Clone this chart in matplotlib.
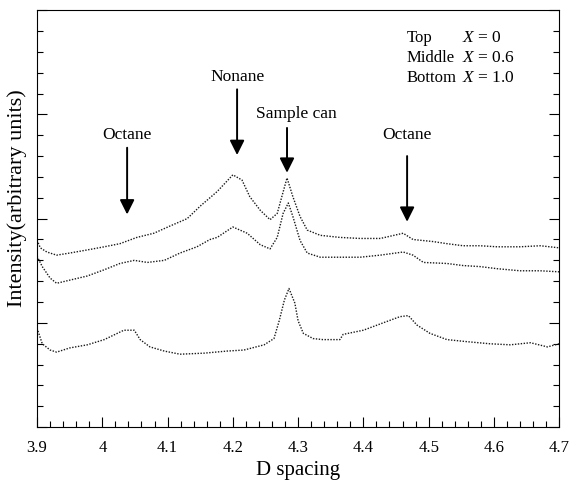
import matplotlib
matplotlib.use("Agg")
import matplotlib.pyplot as plt
from matplotlib.ticker import MultipleLocator, FormatStrFormatter

plt.rcParams['font.family'] = ['Liberation Serif', 'DejaVu Serif']
plt.rcParams['mathtext.fontset'] = 'custom'
plt.rcParams['mathtext.it'] = 'Liberation Serif:italic'

#  top trace, X = 0
top_d = [3.9, 3.905, 3.915, 3.93, 3.95, 3.977, 4.003, 4.027, 4.053, 4.079, 4.104, 4.13,
         4.15, 4.176, 4.2, 4.214, 4.226, 4.242, 4.257, 4.268, 4.275, 4.283, 4.292, 4.303,
         4.314, 4.334, 4.364, 4.395, 4.426, 4.461, 4.476, 4.507, 4.528, 4.553, 4.579,
         4.605, 4.64, 4.671, 4.7]
top_i = [8.97, 8.6, 8.4, 8.25, 8.35, 8.5, 8.65, 8.8, 9.1, 9.3, 9.65, 10.0,
         10.6, 11.3, 12.1, 11.85, 11.05, 10.4, 9.95, 10.25, 11.05, 11.95, 11.05, 10.1,
         9.45, 9.2, 9.1, 9.05, 9.05, 9.3, 9.0, 8.9, 8.8, 8.7, 8.7,
         8.65, 8.65, 8.7, 8.6]

#  middle trace, X = 0.6
mid_d = [3.9, 3.908, 3.92, 3.93, 3.95, 3.977, 4.003, 4.027, 4.049, 4.069, 4.095, 4.119,
         4.145, 4.165, 4.176, 4.2, 4.222, 4.242, 4.257, 4.268, 4.277, 4.285, 4.292, 4.303,
         4.314, 4.334, 4.364, 4.395, 4.426, 4.461, 4.476, 4.492, 4.528, 4.553, 4.579,
         4.605, 4.64, 4.671, 4.7]
mid_i = [8.2, 7.7, 7.15, 6.9, 7.05, 7.25, 7.55, 7.85, 8.0, 7.9, 8.0, 8.35,
         8.65, 9.0, 9.1, 9.6, 9.3, 8.75, 8.55, 9.1, 10.25, 10.75, 10.1, 8.95,
         8.35, 8.15, 8.15, 8.15, 8.25, 8.4, 8.25, 7.9, 7.85, 7.75, 7.7,
         7.6, 7.5, 7.5, 7.45]

#  bottom trace, X = 1.0
bot_d = [3.9, 3.908, 3.92, 3.93, 3.95, 3.977, 4.003, 4.023, 4.033, 4.049, 4.058, 4.073,
         4.095, 4.119, 4.156, 4.191, 4.217, 4.248, 4.263, 4.271, 4.279, 4.286, 4.295, 4.3,
         4.308, 4.323, 4.338, 4.364, 4.369, 4.4, 4.43, 4.456, 4.469, 4.482, 4.502,
         4.528, 4.559, 4.594, 4.625, 4.656, 4.682, 4.7]
bot_i = [4.75, 4.0, 3.7, 3.6, 3.8, 3.95, 4.2, 4.5, 4.65, 4.65, 4.2, 3.85,
         3.65, 3.5, 3.55, 3.65, 3.7, 3.95, 4.25, 5.1, 6.1, 6.65, 5.95, 5.1,
         4.5, 4.25, 4.2, 4.2, 4.45, 4.65, 5.0, 5.3, 5.35, 4.9, 4.5,
         4.2, 4.1, 4.0, 3.95, 4.05, 3.85, 4.0]

#  peak labels: (text, d position, arrow tip, arrow tail, text height)
peaks = [
    ("Octane", 4.038, 10.2, 13.4, 14.0),
    ("Nonane", 4.2065, 13.05, 16.2, 16.8),
    ("Sample can", 4.283, 12.2, 14.35, 15.0),
    ("Octane", 4.467, 9.85, 13.0, 14.0),
]

legend_names = ["Top", "Middle", "Bottom"]
legend_vals = ["0", "0.6", "1.0"]


fig = plt.figure(figsize=(5.7, 4.8), dpi=100)
ax = fig.add_axes([0.065, 0.110, 0.916, 0.869])

for d, i in [(top_d, top_i), (mid_d, mid_i), (bot_d, bot_i)]:
    ax.plot(d, i, linestyle=(0, (1, 1.1)), lw=1.0, color='0.1')

for name, xd, tip, tail, ty in peaks:
    ax.annotate('', xy=(xd, tip), xytext=(xd, tail),
                arrowprops=dict(arrowstyle='-|>', lw=1.4, color='k',
                                mutation_scale=22, shrinkA=0, shrinkB=0))
    ax.text(xd if name != "Sample can" else xd + 0.015, ty, name,
            ha='center', va='center', fontsize=12.5)

for k, (nm, val) in enumerate(zip(legend_names, legend_vals)):
    yy = 18.65 - k * 0.96
    ax.text(4.466, yy, nm, ha='left', va='center', fontsize=12)
    ax.text(4.551, yy, r'$X$ = ' + val, ha='left', va='center', fontsize=12.5)

ax.set_xlim(3.9, 4.7)
ax.set_ylim(0, 20)
ax.xaxis.set_major_locator(MultipleLocator(0.1))
ax.xaxis.set_minor_locator(MultipleLocator(0.02))
ax.xaxis.set_major_formatter(FormatStrFormatter('%g'))
ax.yaxis.set_major_locator(MultipleLocator(5))
ax.yaxis.set_minor_locator(MultipleLocator(1))
ax.tick_params(axis='both', which='both', direction='in', top=False, right=True)
ax.tick_params(which='major', length=7, width=0.8)
ax.tick_params(which='minor', length=4, width=0.8)
ax.tick_params(axis='x', labelsize=12, pad=9)
ax.set_yticklabels([])
ax.set_xlabel('D spacing', fontsize=15, labelpad=4)
ax.set_ylabel('Intensity(arbitrary units)', fontsize=16)
ax.yaxis.set_label_coords(-0.019, 0.55)

fig.savefig('out.png', dpi=100)
